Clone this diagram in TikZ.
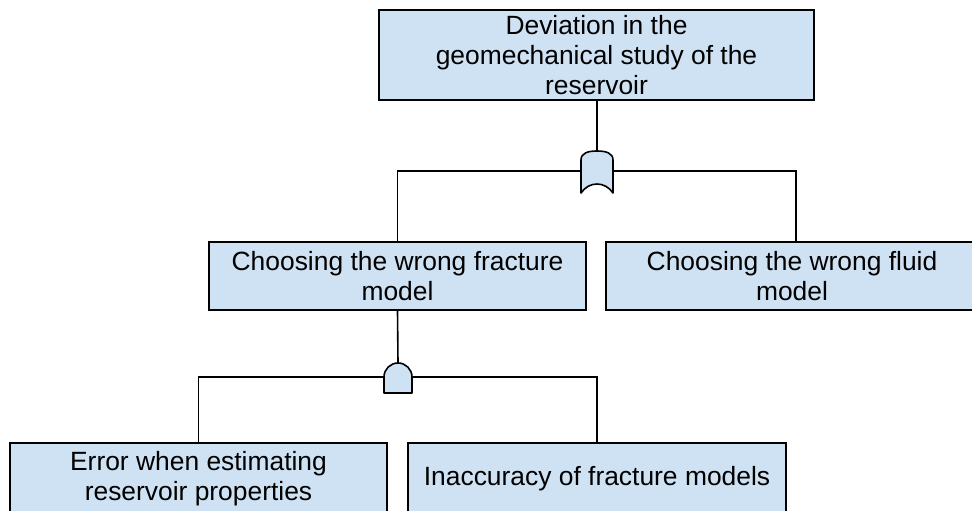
\documentclass[tikz,border=0pt]{standalone}
\usepackage{fontspec}
\setmainfont{Liberation Sans}
\definecolor{boxfill}{HTML}{CFE2F3}
\begin{document}
\begin{tikzpicture}[x=1pt,y=-1pt,
  evbox/.style={draw=black,fill=boxfill,line width=1.5pt,inner sep=0pt,align=center,
    font=\fontsize{26.4}{30}\selectfont},
  conn/.style={line width=1.6pt,draw=black},
  gatefill/.style={draw=black,fill=boxfill,line width=1.6pt,line join=round}]
\useasboundingbox (0,0) rectangle (972,511);
\clip (0,0) rectangle (972,511);
% boxes
\node[evbox,minimum width=435pt,minimum height=90pt] (top) at (596.5,55) {Deviation in the\\geomechanical study of the\\reservoir};
\node[evbox,minimum width=377pt,minimum height=68pt] (frac) at (397.5,276) {Choosing the wrong fracture\\model};
\node[evbox,minimum width=372pt,minimum height=68pt] (fluid) at (792,276) {Choosing the wrong fluid\\model};
\node[evbox,minimum width=377pt,minimum height=72pt] (err) at (198.5,479) {Error when estimating\\reservoir properties};
\node[evbox,minimum width=378pt,minimum height=72pt] (inacc) at (597,479) {Inaccuracy of fracture models};
% gate coordinates
\coordinate (orT) at (597,151);
\coordinate (orC) at (597,171);
\coordinate (fluidIn) at (796,242);
\coordinate (andT) at (398,363);
\coordinate (andC) at (398,377);
% connectors
\draw[conn] (top.south -| orT) -- (orT);
\draw[conn] (frac.north) |- (orC) -| (fluidIn);
\draw[conn] (frac.south) -- (andT);
\draw[conn] (err.north) |- (andC) -| (inacc.north);
% OR gate
\draw[gatefill] (581,193) -- (581,160) .. controls (581,153) and (588,151) .. (597,151)
  .. controls (606,151) and (613,153) .. (613,160) -- (613,193)
  .. controls (605,181) and (589,181) .. (581,193) -- cycle;
% AND gate
\draw[gatefill] (384,393) -- (384,377) arc[start angle=180,end angle=360,radius=14] -- (412,393) -- cycle;
\end{tikzpicture}
\end{document}
